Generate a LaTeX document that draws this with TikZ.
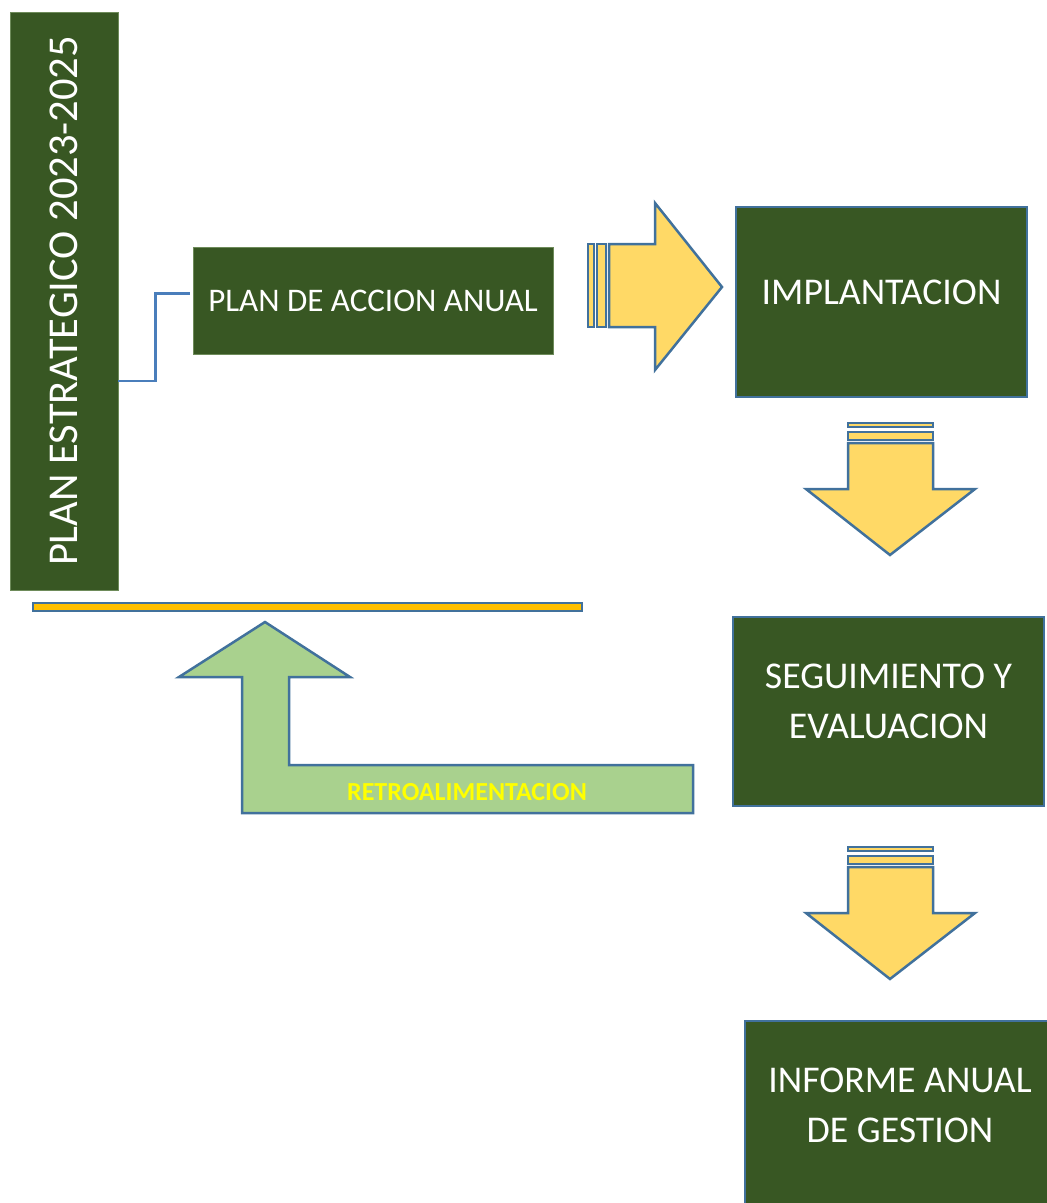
\documentclass[tikz,border=0pt]{standalone}
\usepackage{fontspec}
\setmainfont{Carlito}
\definecolor{verdeoscuro}{HTML}{385723}
\definecolor{verdeborde}{HTML}{6E8B5A}
\definecolor{azulborde}{HTML}{41719C}
\definecolor{azullinea}{HTML}{4A7EBB}
\definecolor{amarillo}{HTML}{FFD966}
\definecolor{naranja}{HTML}{FFC000}
\definecolor{verdeclaro}{HTML}{A9D18E}
\definecolor{amarillotexto}{HTML}{FFFF00}

\begin{document}
\begin{tikzpicture}[x=1pt,y=-1pt,
	caja/.style={fill=verdeoscuro, draw=azulborde, line width=1.8pt, inner sep=0pt},
	cajasin/.style={fill=verdeoscuro, draw=verdeborde, line width=0.8pt, inner sep=0pt},
	texto/.style={text=white, font=\fontsize{37.8}{50}\selectfont, align=center},
	flecha/.style={fill=amarillo, draw=azulborde, line width=2.5pt, line join=miter},
	conector/.style={draw=azullinea, line width=2.5pt}]
		\useasboundingbox (0,0) rectangle (1047,1203);

		% cajas
		\node[cajasin, minimum width=108, minimum height=578] (estrategico) at (64,301) {};
		\node[texto, rotate=90, font=\fontsize{42.5}{50}\selectfont] (estrategicotxt) at (estrategico.center) {PLAN ESTRATEGICO 2023-2025};

		\node[cajasin, minimum width=360, minimum height=107, texto, font=\fontsize{33}{40}\selectfont] (accion) at (373,300.5) {PLAN DE ACCION ANUAL};

		\node[caja, minimum width=291, minimum height=190] (impl) at (881.5,302) {};
		\node[texto] (impltxt) at ([yshift=10pt]impl.center) {IMPLANTACION};

		\node[caja, minimum width=311, minimum height=189] (seguimiento) at (888.5,711.5) {};
		\node[texto] (seguimientotxt) at ([yshift=10pt]seguimiento.center) {SEGUIMIENTO Y\\EVALUACION};

		\node[caja, minimum width=310, minimum height=200] (informe) at (900,1121) {};
		\node[texto] (informetxt) at ([yshift=-85pt]informe.north) {INFORME ANUAL\\DE GESTION};

		\draw[conector] (estrategico.east |- 0,381) -- ++(37,0) |- ([xshift=-3pt,yshift=7pt]accion.west);

		% flecha a la derecha
		\draw[flecha] (588,244) rectangle (594,327);
		\draw[flecha] (597,244) rectangle (606,327);
		\draw[flecha] (609,244) -- (655,244) -- (655,203) -- (722,287) -- (655,370) -- (655,327) -- (609,327) -- cycle;

		% flechas hacia abajo
		\foreach \y in {423,847} {
			\draw[flecha] (848,\y) rectangle (933,\y+4);
			\draw[flecha] (848,\y+9) rectangle (933,\y+17);
			\draw[flecha] (848,\y+20) -- (933,\y+20) -- (933,\y+66) -- (975,\y+66) -- (890,\y+132) -- (806,\y+66) -- (848,\y+66) -- cycle;
		}

		% barra y retroalimentacion
		\draw[fill=naranja, draw=azulborde, line width=1.8pt] (33,603) rectangle (582,611);
		\draw[flecha, fill=verdeclaro] (242,813) -- (693,813) -- (693,765) -- (289,765) -- (289,677) -- (350,677) -- (265,622) -- (179,677) -- (242,677) -- cycle;
		\node[text=amarillotexto, font=\bfseries\fontsize{26}{30}\selectfont] (retro) at (467,792) {RETROALIMENTACION};
	\end{tikzpicture}
\end{document}
